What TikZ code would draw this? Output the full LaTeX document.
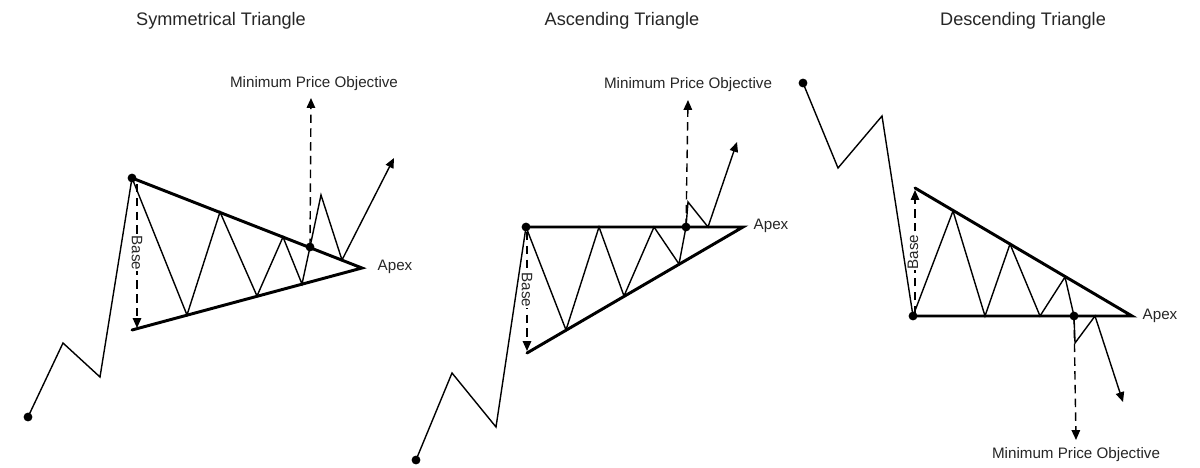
\documentclass[tikz,border=0pt]{standalone}
\usepackage{fontspec}
\setmainfont{Liberation Sans}
\usetikzlibrary{arrows.meta}
\begin{document}
\begin{tikzpicture}[x=0.025cm,y=-0.025cm,
  price/.style={line width=1pt, line join=miter},
  bound/.style={line width=2.1pt, line cap=round},
  tipped/.style={-{Triangle[length=7pt,width=6pt]}},
  proj/.style={line width=1pt, dash pattern=on 6pt off 3.8pt, -{Triangle[length=7pt,width=6pt]}},
  dot/.style={circle, fill=black, inner sep=0pt, minimum size=6.3pt},
  ttl/.style={font=\fontsize{12.9}{14}\selectfont, text=black!85},
  lbl/.style={font=\fontsize{10.8}{12}\selectfont, text=black!85},
  baselbl/.style={lbl, fill=white, inner sep=0.6pt}]
\useasboundingbox (0,0) rectangle (1200,467);

% ---------------- Symmetrical ----------------
\coordinate (a0) at (28,417);
\coordinate (a1) at (63,343);
\coordinate (a2) at (100,377);
\coordinate (a3) at (132,178);
\coordinate (a4) at (187,315);
\coordinate (a5) at (220,212);
\coordinate (a6) at (257,296);
\coordinate (a7) at (283,237);
\coordinate (a8) at (302,284);
\coordinate (a9) at (310,247);
\coordinate (a10) at (321,195);
\coordinate (a11) at (342,260);
\coordinate (a12) at (394,158);
\coordinate (aapex) at (362,268);
\coordinate (alow) at (132,330);
\coordinate (abt) at (137,184);
\coordinate (abb) at (137,328);
\coordinate (amp) at (311,98);

\draw[price, tipped] (a0) -- (a1) -- (a2) -- (a3) -- (a4) -- (a5) -- (a6) -- (a7) -- (a8) -- (a9) -- (a10) -- (a11) -- (a12);
\draw[bound] (a3) -- (aapex) -- (alow);
\draw[proj] (abt) -- (abb);
\draw[proj] (a9) -- (amp);
\node[baselbl, rotate=-90] (abase) at (137,253) {Base};
\node[dot] (a0d) at (a0) {};
\node[dot] (a3d) at (a3) {};
\node[dot] (a9d) at (a9) {};
\node[lbl] (ampl) at (314,84) {Minimum Price Objective};
\node[lbl] (aapl) at (395,267) {Apex};
\node[ttl] (at) at (221,21) {Symmetrical Triangle};

% ---------------- Ascending ----------------
\coordinate (b0) at (416,460);
\coordinate (b1) at (452,373);
\coordinate (b2) at (496,427);
\coordinate (b3) at (526,227);
\coordinate (b4) at (566,330);
\coordinate (b5) at (599,227);
\coordinate (b6) at (624,296);
\coordinate (b7) at (654,227);
\coordinate (b8) at (679,264);
\coordinate (b9) at (686,227);
\coordinate (b10) at (688,202);
\coordinate (b11) at (708,227);
\coordinate (b12) at (737,142);
\coordinate (bapex) at (743,227);
\coordinate (blow) at (527,353);
\coordinate (bbt) at (527,232);
\coordinate (bbb) at (527,351);
\coordinate (bmp) at (688,100);

\draw[price, tipped] (b0) -- (b1) -- (b2) -- (b3) -- (b4) -- (b5) -- (b6) -- (b7) -- (b8) -- (b9) -- (b10) -- (b11) -- (b12);
\draw[bound] (b3) -- (bapex) -- (blow);
\draw[proj] (bbt) -- (bbb);
\draw[proj] (b9) -- (bmp);
\node[baselbl, rotate=-90] (bbase) at (527,290) {Base};
\node[dot] (b0d) at (b0) {};
\node[dot] (b3d) at (b3) {};
\node[dot] (b9d) at (b9) {};
\node[lbl] (bmpl) at (688,85) {Minimum Price Objective};
\node[lbl] (bapl) at (771,226) {Apex};
\node[ttl] (bt) at (622,21) {Ascending Triangle};

% ---------------- Descending ----------------
\coordinate (c0) at (803,83);
\coordinate (c1) at (838,168);
\coordinate (c2) at (882,116);
\coordinate (c3) at (913,316);
\coordinate (c4) at (953,211);
\coordinate (c5) at (985,316);
\coordinate (c6) at (1010,244);
\coordinate (c7) at (1040,316);
\coordinate (c8) at (1065,277);
\coordinate (c9) at (1074,316);
\coordinate (c10) at (1075,343);
\coordinate (c11) at (1095,316);
\coordinate (c12) at (1123,402);
\coordinate (capex) at (1132,316);
\coordinate (chigh) at (915,188);
\coordinate (cbb) at (915,314);
\coordinate (cbt) at (915,190);
\coordinate (cmp) at (1076,440);

\draw[price, tipped] (c0) -- (c1) -- (c2) -- (c3) -- (c4) -- (c5) -- (c6) -- (c7) -- (c8) -- (c9) -- (c10) -- (c11) -- (c12);
\draw[bound] (chigh) -- (capex) -- (c3);
\draw[proj] (cbb) -- (cbt);
\draw[proj] (c9) -- (cmp);
\node[baselbl, rotate=90] (cbase) at (913,252) {Base};
\node[dot] (c0d) at (c0) {};
\node[dot] (c3d) at (c3) {};
\node[dot] (c9d) at (c9) {};
\node[lbl] (cmpl) at (1076,455) {Minimum Price Objective};
\node[lbl] (capl) at (1160,316) {Apex};
\node[ttl] (ct) at (1023,21) {Descending Triangle};
\end{tikzpicture}
\end{document}
